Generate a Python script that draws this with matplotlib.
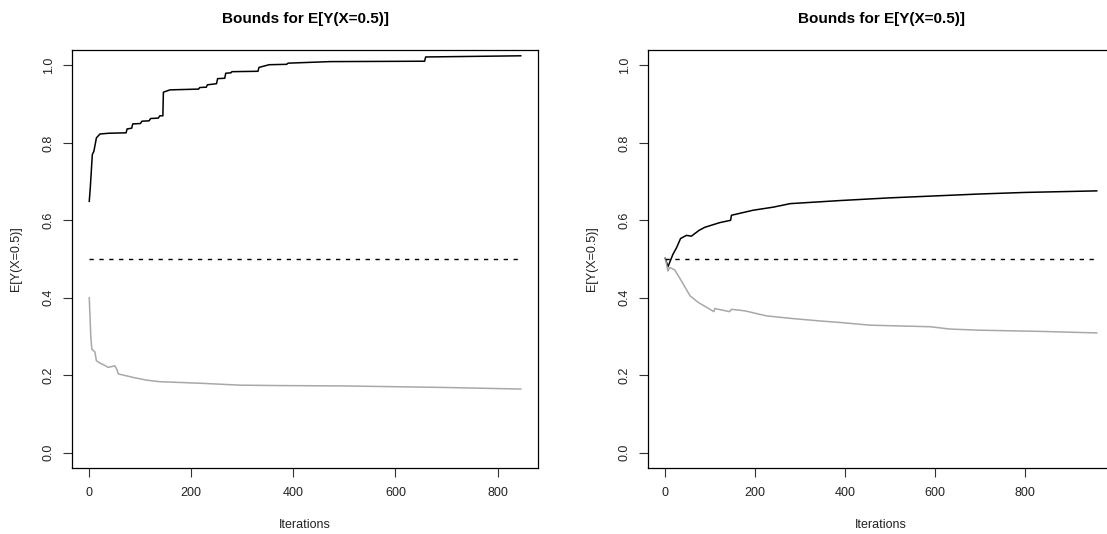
import numpy as np
import matplotlib
matplotlib.use("Agg")
import matplotlib.pyplot as plt

plt.rcParams['font.family'] = ['Liberation Sans', 'DejaVu Sans']

# Data (iteration, bound)
left_upper_x = [1, 3, 7, 10, 15, 22, 40, 73, 75, 84, 86, 101, 104, 118, 121, 136, 139, 145, 146, 159,
                215, 217, 230, 232, 250, 252, 266, 268, 278, 280, 331, 333, 353, 387, 390, 472, 657, 659, 845]
left_upper_y = [0.649, 0.684, 0.770, 0.778, 0.813, 0.823, 0.825, 0.826, 0.836, 0.838, 0.849, 0.850, 0.856,
                0.857, 0.863, 0.864, 0.870, 0.870, 0.931, 0.937, 0.939, 0.943, 0.944, 0.950, 0.953, 0.966,
                0.967, 0.980, 0.981, 0.984, 0.985, 0.995, 1.002, 1.003, 1.006, 1.010, 1.011, 1.022, 1.025]

left_lower_x = [1, 4, 6, 12, 15, 22, 30, 38, 51, 55, 58, 87, 113, 139, 218, 296, 374, 500, 600, 700, 845]
left_lower_y = [0.400, 0.300, 0.267, 0.260, 0.237, 0.231, 0.226, 0.220, 0.224, 0.215, 0.203, 0.194, 0.187,
                0.183, 0.179, 0.174, 0.173, 0.172, 0.170, 0.168, 0.164]

right_upper_x = [1, 7, 18, 26, 35, 48, 59, 76, 89, 122, 146, 148, 196, 241, 278, 389, 500, 600, 700, 800, 959]
right_upper_y = [0.502, 0.480, 0.512, 0.529, 0.553, 0.561, 0.559, 0.574, 0.582, 0.594, 0.600, 0.613, 0.626,
                 0.634, 0.643, 0.651, 0.658, 0.663, 0.668, 0.672, 0.676]

right_lower_x = [1, 7, 11, 22, 37, 56, 74, 93, 109, 111, 144, 148, 178, 226, 285, 344, 389, 456, 589, 633,
                 700, 833, 959]
right_lower_y = [0.501, 0.469, 0.478, 0.472, 0.443, 0.405, 0.388, 0.375, 0.364, 0.372, 0.364, 0.370, 0.366,
                 0.353, 0.346, 0.340, 0.336, 0.329, 0.325, 0.319, 0.316, 0.313, 0.309]

true_value = 0.5
x_ticks = [0, 200, 400, 600, 800]
y_ticks = [0.0, 0.2, 0.4, 0.6, 0.8, 1.0]

W, H = 1107, 534
fig = plt.figure(figsize=(W / 100, H / 100), dpi=100)


def make_panel(left_px, upper_x, upper_y, lower_x, lower_y):
    ax = fig.add_axes([left_px / W, (H - 468) / H, 466 / W, 418 / H])
    n = max(upper_x[-1], lower_x[-1])
    pad = 0.04 * (n - 1)
    ax.set_xlim(1 - pad, n + pad)
    ax.set_ylim(-0.04, 1.04)

    ax.plot(upper_x, upper_y, color='black', lw=1.1)
    ax.plot(lower_x, lower_y, color='#a8a8a8', lw=1.1)
    ax.plot([1, n], [true_value, true_value], color='black', lw=1.0, dashes=(3.1, 4.0))

    ax.set_xticks(x_ticks)
    ax.set_yticks(y_ticks)
    ax.set_yticklabels([f"{v:.1f}" for v in y_ticks], rotation=90, va='center')
    ax.tick_params(axis='both', direction='out', length=6.5, width=0.8, color='#333333',
                   labelsize=9, labelcolor='#222222')
    ax.tick_params(axis='x', pad=7.5)
    ax.tick_params(axis='y', pad=6.0)
    for s in ax.spines.values():
        s.set_linewidth(0.9)

    ax.set_xlabel('Iterations', fontsize=9, color='#222222')
    ax.xaxis.set_label_coords(0.5, -51 / 418)
    ax.set_ylabel('E[Y(X=0.5)]', fontsize=9, color='#222222')
    ax.yaxis.set_label_coords(-50 / 466, 0.5)
    ax.text(0.5, 1 + 31 / 418, 'Bounds for E[Y(X=0.5)]', transform=ax.transAxes,
            ha='center', va='center', fontsize=11, fontweight='bold')
    return ax


make_panel(72, left_upper_x, left_upper_y, left_lower_x, left_lower_y)
make_panel(648, right_upper_x, right_upper_y, right_lower_x, right_lower_y)

fig.savefig('out.png', dpi=100)
